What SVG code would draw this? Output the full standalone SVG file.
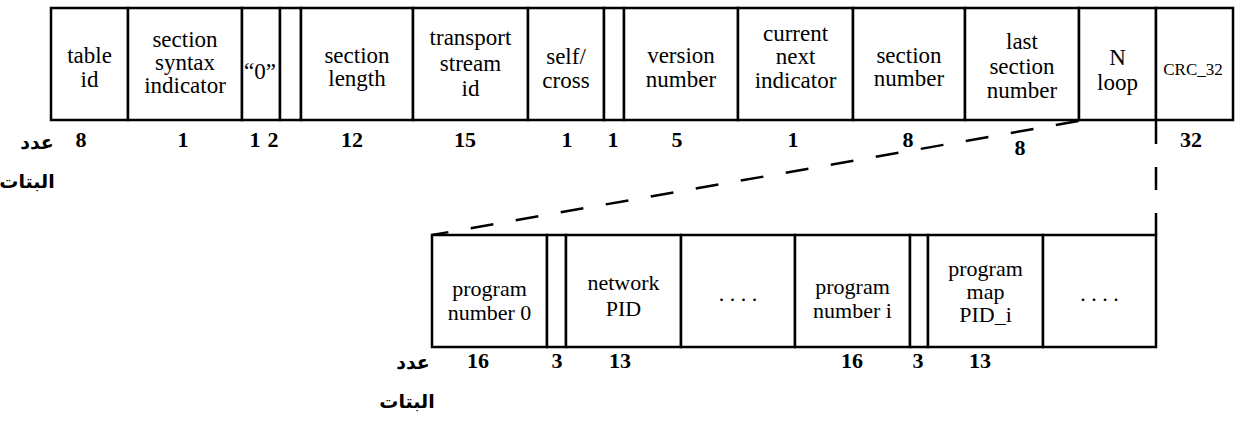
<svg xmlns="http://www.w3.org/2000/svg" width="1238" height="421" viewBox="0 0 1238 421">
<style>
.f{fill:#fff;stroke:#000;stroke-width:2.5}
.t{font-family:"Liberation Serif","Times New Roman",serif;font-size:23px;fill:#000;text-anchor:middle}
.t2{font-family:"Liberation Serif","Times New Roman",serif;font-size:22px;fill:#000;text-anchor:middle}
.s{font-family:"Liberation Serif","Times New Roman",serif;font-size:17px;fill:#000;text-anchor:middle}
.n{font-family:"Liberation Serif","Times New Roman",serif;font-size:22px;font-weight:bold;fill:#000;text-anchor:middle}
.a{font-family:"DejaVu Sans",sans-serif;font-size:19px;font-weight:bold;fill:#000;text-anchor:middle}
.d{fill:none;stroke:#000;stroke-width:2.5;stroke-dasharray:23 22.7}
</style>
<rect width="1238" height="421" fill="#fff"/>
<g id="table_id"><rect class="f" x="51" y="8" width="77" height="112"/><text class="t" x="89.5" y="63">table</text><text class="t" x="89.5" y="87">id</text></g>
<g id="section_syntax_indicator"><rect class="f" x="128" y="8" width="114" height="112"/><text class="t" x="185" y="47">section</text><text class="t" x="185" y="70">syntax</text><text class="t" x="185" y="93">indicator</text></g>
<g id="zero"><rect class="f" x="242" y="8" width="38" height="112"/><text class="t" x="260" y="79">“0”</text></g>
<g id="reserved1"><rect class="f" x="280" y="8" width="21" height="112"/></g>
<g id="section_length"><rect class="f" x="301" y="8" width="112" height="112"/><text class="t" x="357" y="63">section</text><text class="t" x="357" y="86">length</text></g>
<g id="transport_stream_id"><rect class="f" x="413" y="8" width="115" height="112"/><text class="t" x="470.5" y="45">transport</text><text class="t" x="470.5" y="71">stream</text><text class="t" x="470.5" y="96">id</text></g>
<g id="self_cross"><rect class="f" x="528" y="8" width="76" height="112"/><text class="t" x="566" y="64">self/</text><text class="t" x="566" y="88">cross</text></g>
<g id="reserved2"><rect class="f" x="604" y="8" width="20" height="112"/></g>
<g id="version_number"><rect class="f" x="624" y="8" width="114" height="112"/><text class="t" x="681" y="63">version</text><text class="t" x="681" y="87">number</text></g>
<g id="current_next_indicator"><rect class="f" x="738" y="8" width="115" height="112"/><text class="t" x="795.5" y="41">current</text><text class="t" x="795.5" y="64">next</text><text class="t" x="795.5" y="88">indicator</text></g>
<g id="section_number"><rect class="f" x="853" y="8" width="112" height="112"/><text class="t" x="909" y="63">section</text><text class="t" x="909" y="86">number</text></g>
<g id="last_section_number"><rect class="f" x="965" y="8" width="114" height="112"/><text class="t" x="1022" y="49">last</text><text class="t" x="1022" y="74">section</text><text class="t" x="1022" y="98">number</text></g>
<g id="n_loop"><rect class="f" x="1079" y="8" width="77" height="112"/><text class="t" x="1117.5" y="65">N</text><text class="t" x="1117.5" y="90">loop</text></g>
<g id="crc_32"><rect class="f" x="1156" y="8" width="77" height="112"/><text class="s" x="1193" y="75">CRC_32</text></g>

<g id="program_number_0"><rect class="f" x="432" y="235" width="115" height="112"/><text class="t2" x="489.5" y="296">program</text><text class="t2" x="489.5" y="320">number 0</text></g>
<g id="reserved3"><rect class="f" x="547" y="235" width="19" height="112"/></g>
<g id="network_pid"><rect class="f" x="566" y="235" width="115" height="112"/><text class="t2" x="623.5" y="290">network</text><text class="t2" x="623.5" y="316">PID</text></g>
<g id="ellipsis1"><rect class="f" x="681" y="235" width="114" height="112"/><text class="t2" x="738" y="301">. . . .</text></g>
<g id="program_number_i"><rect class="f" x="795" y="235" width="115" height="112"/><text class="t2" x="852.5" y="294">program</text><text class="t2" x="852.5" y="318">number i</text></g>
<g id="reserved4"><rect class="f" x="910" y="235" width="18" height="112"/></g>
<g id="program_map_pid_i"><rect class="f" x="928" y="235" width="115" height="112"/><text class="t2" x="985.5" y="276">program</text><text class="t2" x="985.5" y="299">map</text><text class="t2" x="985.5" y="322">PID_i</text></g>
<g id="ellipsis2"><rect class="f" x="1043" y="235" width="113" height="112"/><text class="t2" x="1099.5" y="301">. . . .</text></g>

<g id="connectors">
<line class="d" x1="432" y1="235" x2="1079" y2="121" stroke-dashoffset="6.4"/>
<line class="d" x1="1156" y1="121" x2="1156" y2="235" style="stroke-dasharray:23 23"/>
</g>

<g id="bit_counts_top">
<text class="a" x="37" y="149">عدد</text>
<text class="a" x="27" y="188">البتات</text>
<text class="n" x="81" y="147">8</text>
<text class="n" x="183" y="147">1</text>
<text class="n" x="255" y="147">1</text>
<text class="n" x="273" y="147">2</text>
<text class="n" x="352" y="147">12</text>
<text class="n" x="465" y="147">15</text>
<text class="n" x="567" y="147">1</text>
<text class="n" x="613" y="147">1</text>
<text class="n" x="677" y="147">5</text>
<text class="n" x="793" y="147">1</text>
<text class="n" x="908" y="147">8</text>
<text class="n" x="1020" y="155">8</text>
<text class="n" x="1191" y="147">32</text>
</g>
<g id="bit_counts_bottom">
<text class="a" x="413" y="369">عدد</text>
<text class="a" x="407" y="408">البتات</text>
<text class="n" x="478" y="368">16</text>
<text class="n" x="557" y="368">3</text>
<text class="n" x="620" y="368">13</text>
<text class="n" x="852" y="368">16</text>
<text class="n" x="918" y="368">3</text>
<text class="n" x="980" y="368">13</text>
</g>
</svg>
